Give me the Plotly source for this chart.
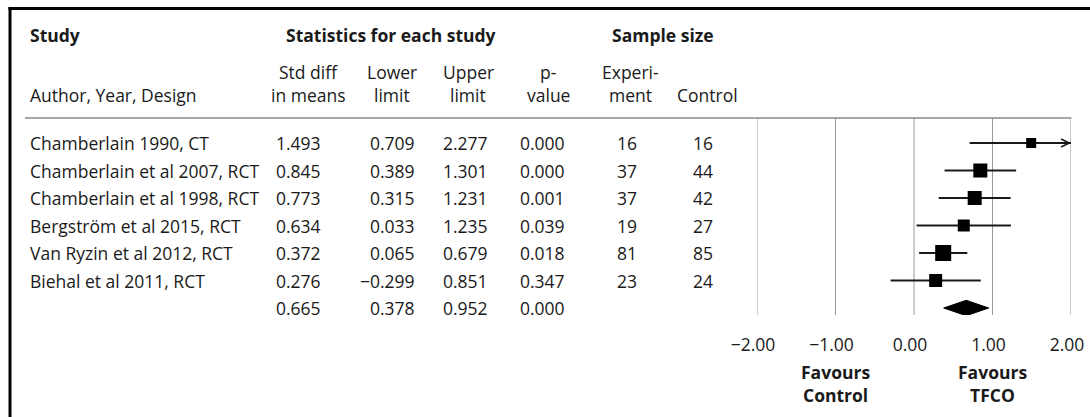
import plotly.graph_objects as go

# ---------------- data ----------------
studies = ["Chamberlain 1990, CT", "Chamberlain et al 2007, RCT", "Chamberlain et al 1998, RCT",
           "Bergström et al 2015, RCT", "Van Ryzin et al 2012, RCT", "Biehal et al 2011, RCT"]
smd = [1.493, 0.845, 0.773, 0.634, 0.372, 0.276]
lower = [0.709, 0.389, 0.315, 0.033, 0.065, -0.299]
upper = [2.277, 1.301, 1.231, 1.235, 0.679, 0.851]
pval = [0.000, 0.000, 0.001, 0.039, 0.018, 0.347]
n_exp = [16, 37, 37, 19, 81, 23]
n_ctrl = [16, 44, 42, 27, 85, 24]
summary_smd, summary_lower, summary_upper, summary_p = 0.665, 0.378, 0.952, 0.000
tick_vals = [-2, -1, 0, 1, 2]
tick_text = ["\u22122.00", "\u22121.00", "0.00", "1.00", "2.00"]

# ---------------- styles ----------------
W, H = 1090, 417
FONT = "Open Sans"
FS = 17.5
FS_B = 17.5
TXT = "#1a1a1a"
marker_sizes = [10, 14, 14, 12, 16, 13]
row_y0, row_step = 143, 27.5          # pixel centre of first row, row spacing
plot_top, plot_bot = 118, 315         # forest panel vertical extent (px)
x_left_px, x_right_px = 757, 1071     # pixel positions of axis ends


def px(x):
    return x / W


def py(y):
    return 1 - y / H


def fmt(v):
    return f"{v:.3f}".replace("-", "\u2212")


y_top = (plot_top - row_y0) / row_step
y_bot = (plot_bot - row_y0) / row_step

fig = go.Figure()

# CI lines
for i, (lo, hi) in enumerate(zip(lower, upper)):
    hi_c = min(hi, tick_vals[-1])
    lo_c = max(lo, tick_vals[0])
    fig.add_trace(go.Scatter(x=[lo_c, hi_c], y=[i, i], mode="lines",
                             line=dict(color="#1a1a1a", width=2), hoverinfo="skip",
                             showlegend=False, cliponaxis=False))

# study squares
fig.add_trace(go.Scatter(x=smd, y=list(range(len(smd))), mode="markers",
                         marker=dict(symbol="square", size=marker_sizes, color="black",
                                     opacity=1, line=dict(width=0)),
                         showlegend=False, hoverinfo="skip"))

# summary diamond
si = len(studies)
dh = 0.28
fig.add_trace(go.Scatter(x=[summary_lower, summary_smd, summary_upper, summary_smd, summary_lower],
                         y=[si, si - dh, si, si + dh, si], mode="lines", fill="toself",
                         fillcolor="black", line=dict(color="black", width=1),
                         showlegend=False, hoverinfo="skip"))

annotations = []
shapes = []

# chevron for CI truncated at the axis end
for i, hi in enumerate(upper):
    if hi > tick_vals[-1]:
        annotations.append(dict(x=tick_vals[-1], y=i, ax=tick_vals[-1] - 0.4, ay=i,
                                xref="x", yref="y", axref="x", ayref="y", text="",
                                showarrow=True, arrowhead=5, arrowsize=1.0, arrowwidth=1.6,
                                arrowcolor="#1a1a1a", standoff=0))


def ann(text, x, y, xanchor="center", yref="y", bold=False):
    annotations.append(dict(text=f"<b>{text}</b>" if bold else text, x=x, y=y,
                            xref="paper", yref=yref, xanchor=xanchor, yanchor="middle",
                            showarrow=False,
                            font=dict(family=FONT, size=FS_B if bold else FS, color=TXT)))


# table rows
col_smd, col_lo, col_hi, col_p, col_e, col_c = 323, 417, 490, 567, 627, 703
for i in range(len(studies)):
    ann(studies[i], px(28), i, "left")
    ann(fmt(smd[i]), px(col_smd), i, "right")
    ann(fmt(lower[i]), px(col_lo), i, "right")
    ann(fmt(upper[i]), px(col_hi), i, "right")
    ann(fmt(pval[i]), px(col_p), i, "right")
    ann(str(n_exp[i]), px(col_e), i, "center")
    ann(str(n_ctrl[i]), px(col_c), i, "center")
ann(fmt(summary_smd), px(col_smd), si, "right")
ann(fmt(summary_lower), px(col_lo), si, "right")
ann(fmt(summary_upper), px(col_hi), si, "right")
ann(fmt(summary_p), px(col_p), si, "right")

# headers
ann("Study", px(28), py(35), "left", yref="paper", bold=True)
ann("Statistics for each study", px(391), py(35), "center", yref="paper", bold=True)
ann("Sample size", px(663), py(35), "center", yref="paper", bold=True)
ann("Author, Year, Design", px(28), py(95), "left", yref="paper")
for (l1, l2, xc) in [("Std diff", "in means", 308), ("Lower", "limit", 392), ("Upper", "limit", 468),
                     ("p-", "value", 548), ("Experi-", "ment", 630)]:
    ann(l1, px(xc), py(72), "center", yref="paper")
    ann(l2, px(xc), py(95), "center", yref="paper")
ann("Control", px(707), py(95), "center", yref="paper")

# favours labels
for xv, t1, t2 in [(-1, "Favours", "Control"), (1, "Favours", "TFCO")]:
    for t, yy in [(t1, 372), (t2, 395)]:
        annotations.append(dict(text=f"<b>{t}</b>", x=xv, y=py(yy), xref="x", yref="paper",
                                xanchor="center", yanchor="middle", showarrow=False,
                                font=dict(family=FONT, size=FS_B, color=TXT)))

# vertical grid lines at the tick values
for tv in tick_vals:
    shapes.append(dict(type="line", xref="x", yref="y domain", x0=tv, x1=tv, y0=0, y1=1,
                       line=dict(color="#9a9a9a", width=1), layer="below"))

shapes += [
    # frame
    dict(type="line", xref="paper", yref="paper", x0=px(8.5), x1=1, y0=py(8.5), y1=py(8.5),
         line=dict(color="black", width=3)),
    dict(type="line", xref="paper", yref="paper", x0=px(10), x1=px(10), y0=py(7), y1=0,
         line=dict(color="black", width=3)),
    # header separator
    dict(type="line", xref="paper", yref="paper", x0=px(25), x1=px(x_right_px + 0.5),
         y0=py(plot_top), y1=py(plot_top), line=dict(color="#8a8a8a", width=1.5)),
]

fig.update_layout(
    width=W, height=H, margin=dict(l=0, r=0, t=0, b=0, pad=0, autoexpand=False),
    paper_bgcolor="white", plot_bgcolor="white",
    showlegend=False,
    xaxis=dict(domain=[px(x_left_px), px(x_right_px)], range=[tick_vals[0], tick_vals[-1]],
               tickvals=tick_vals, ticktext=tick_text, showgrid=False,
               zeroline=False, showline=False, ticks="", automargin=False,
               ticklabelstandoff=17, ticklabelshift=-4,
               tickfont=dict(family=FONT, size=FS, color=TXT), fixedrange=True),
    yaxis=dict(domain=[py(plot_bot), py(plot_top)], range=[y_bot, y_top], automargin=False,
               showgrid=False, zeroline=False, showticklabels=False, showline=False,
               fixedrange=True),
    annotations=annotations, shapes=shapes,
)

fig.write_html("out.html", config={"displayModeBar": False},
               post_script="document.body.style.margin='0';document.body.style.overflow='hidden';")
